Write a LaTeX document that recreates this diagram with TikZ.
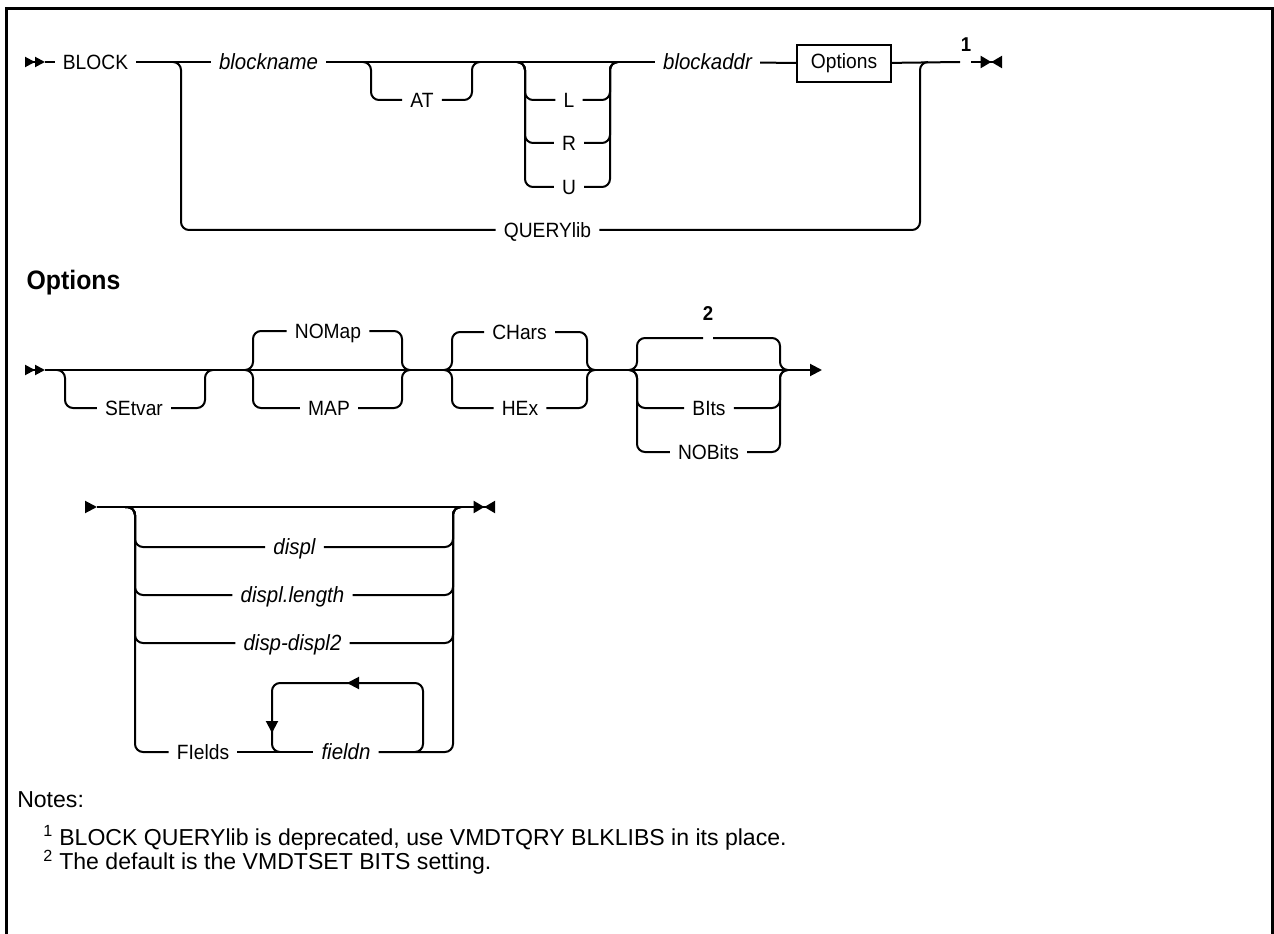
\documentclass[tikz,border=0pt]{standalone}
\usepackage{fontspec}
\setmainfont{Liberation Sans}[FakeStretch=0.93]
\newfontfamily\notefont{Liberation Sans}
\usepackage{tikz}
\usetikzlibrary{
    positioning,
    arrows.meta
}

\tikzset{
    rail/.style={line width=1.5pt},
    branch/.style={rail, rounded corners=6pt},
    kw/.style={font=\fontsize{15.5}{18}\selectfont, inner xsep=6pt, inner ysep=0pt,
        text height=11.3pt, text depth=0.2pt},
    var/.style={kw, font=\fontsize{16.5}{19}\selectfont\itshape, text height=11.8pt, text depth=0.2pt},
    box/.style={draw, line width=1.1pt, font=\fontsize{15.5}{18}\selectfont, inner sep=0pt,
        minimum width=70.5pt, minimum height=27.75pt},
    fn/.style={font=\fontsize{15}{18}\selectfont\bfseries, inner sep=0pt},
    head/.style={font=\fontsize{20}{23}\selectfont\bfseries, inner sep=0pt},
    note/.style={font=\notefont\fontsize{17.3}{20}\selectfont, inner sep=0pt, anchor=west},
    begin2/.style={-{Triangle[length=7.5pt,width=7.5pt,sep=0pt]Triangle[length=7.5pt,width=7.5pt]}},
    begin1/.style={-{Triangle[length=9pt,width=9pt]}},
    finish/.style={-{Triangle[length=8pt,width=9pt,sep=0pt]Triangle[length=8pt,width=9pt,reversed]}},
    finish1/.style={-{Triangle[length=9pt,width=9pt]}}
}

\begin{document}
\begin{tikzpicture}[x=0.75pt, y=-0.75pt]
    \useasboundingbox (0,0) rectangle (1274,934);
    % Rahmen
    \draw[line width=2.2pt] (6.5,934) -- (6.5,8.5) -- (1272.5,8.5) -- (1272.5,934);

    % --- BLOCK ---
    \coordinate (r1s) at (25,62);
    \coordinate (r1t) at (45,62);
    \node[kw] (block) at (95.5,62) {BLOCK};
    \node[var] (bname) at (268.5,62) {blockname};
    \node[kw] (at) at (422,100) {AT};
    \node[kw] (l) at (569,100) {L};
    \node[kw] (r) at (569,143) {R};
    \node[kw] (u) at (569,187) {U};
    \node[var] (baddr) at (707.5,62) {blockaddr};
    \node[box] (opts) at (844,63.5) {Options};
    \node[kw] (qlib) at (547.5,230) {QUERYlib};
    \node[fn] (fn1) at (966,45) {1};
    \coordinate (fn1a) at (960,62);
    \coordinate (fn1b) at (971,62);
    \coordinate (r1e) at (1002,62);

    \draw[rail, begin2] (r1s) -- (r1t);
    \draw[rail] (r1t) -- (block);
    \draw[rail] (block) -- (bname);
    \draw[rail] (bname) -- (baddr);
    \draw[rail] (baddr) -- (opts);
    \draw[rail] (opts) -- (fn1a);
    \draw[rail, finish] (fn1b) -- (r1e);
    \draw[branch] (173,62) -| (181,230) -- (qlib);
    \draw[branch] (qlib) -| (920,62) -- (928,62);
    \draw[branch] (363,62) -| (371,100) -- (at);
    \draw[branch] (at) -| (472,62) -- (480,62);
    \foreach \n/\yy in {l/100, r/143, u/187} {
        \draw[branch] (517,62) -| (525,\yy) -- (\n);
        \draw[branch] (\n) -| (610,62) -- (618,62);
    }

    % --- Options ---
    \node[head] (opthead) at (73.5,283) {Options};
    \coordinate (r2s) at (25,370);
    \coordinate (r2t) at (45,370);
    \coordinate (r2e) at (822,370);
    \node[kw] (setvar) at (134,408) {SEtvar};
    \node[kw] (nomap) at (328,331) {NOMap};
    \node[kw] (map) at (329,408) {MAP};
    \node[kw] (chars) at (519.5,332) {CHars};
    \node[kw] (hex) at (520,408) {HEx};
    \node[fn] (fn2) at (708,314) {2};
    \coordinate (fn2a) at (703,338);
    \coordinate (fn2b) at (713,338);
    \node[kw] (bits) at (709,408) {BIts};
    \node[kw] (nobits) at (708.5,452) {NOBits};

    \draw[rail, begin2] (r2s) -- (r2t);
    \draw[rail, finish1] (r2t) -- (r2e);
    \draw[branch] (57,370) -| (65,408) -- (setvar);
    \draw[branch] (setvar) -| (205,370) -- (213,370);
    \foreach \n/\yy in {nomap/331, map/408} {
        \draw[branch] (245,370) -| (253,\yy) -- (\n);
        \draw[branch] (\n) -| (402,370) -- (410,370);
    }
    \foreach \n/\yy in {chars/332, hex/408} {
        \draw[branch] (444,370) -| (452,\yy) -- (\n);
        \draw[branch] (\n) -| (587,370) -- (595,370);
    }
    \draw[branch] (629,370) -| (637,338) -- (fn2a);
    \draw[branch] (fn2b) -| (780,370) -- (788,370);
    \foreach \n/\yy in {bits/408, nobits/452} {
        \draw[branch] (629,370) -| (637,\yy) -- (\n);
        \draw[branch] (\n) -| (780,370) -- (788,370);
    }

    % --- Felder ---
    \coordinate (r3s) at (85,507);
    \coordinate (r3t) at (97,507);
    \coordinate (r3e) at (495,507);
    \node[var] (displ) at (294.5,547) {displ};
    \node[var] (dlen) at (292.5,595) {displ.length};
    \node[var] (drange) at (292.5,643) {disp-displ2};
    \node[kw] (fields) at (203,752) {FIelds};
    \node[var] (fieldn) at (346,752) {fieldn};

    \draw[rail, begin1] (r3s) -- (r3t);
    \draw[rail, finish] (r3t) -- (r3e);
    \foreach \n/\yy in {displ/547, dlen/595, drange/643} {
        \draw[branch] (125,507) -| (135,\yy) -- (\n);
        \draw[branch] (\n) -| (453,507) -- (461,507);
    }
    \draw[branch] (125,507) -| (135,752) -- (fields);
    \draw[rail] (fields) -- (fieldn);
    \draw[branch] (fieldn) -| (453,507) -- (461,507);
    % Wiederholung
    \draw[branch] (415,752) -| (423,683) -| (272,752) -- (280,752);
    \draw[rail, finish1] (359,683) -- (347,683);
    \draw[rail, finish1] (272,721) -- (272,733);

    % --- Notes ---
    \node[note] (notes) at (17,800) {Notes:};
    \node[note] (note1) at (43,838) {\textsuperscript{1} BLOCK QUERYlib is deprecated, use VMDTQRY BLKLIBS in its place.};
    \node[note] (note2) at (43,862) {\textsuperscript{2} The default is the VMDTSET BITS setting.};
\end{tikzpicture}
\end{document}
